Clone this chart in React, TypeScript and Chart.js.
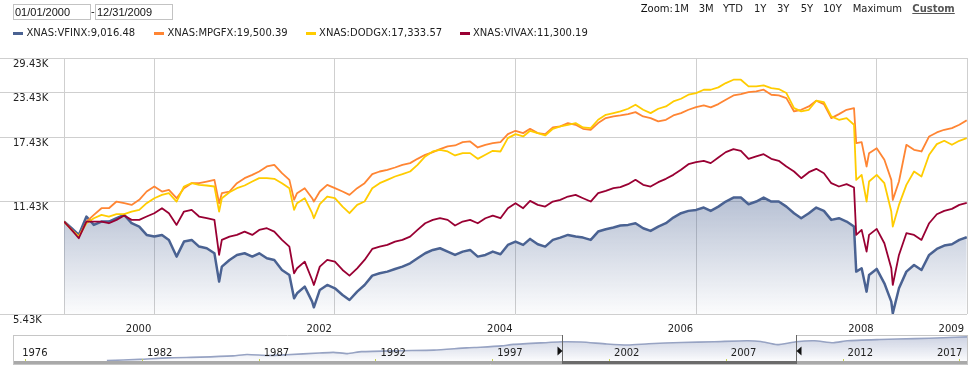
import React, { useEffect, useRef } from 'react';
import { Chart, registerables } from 'chart.js';

Chart.register(...registerables);

// ---------------- DATA ----------------
const dates = [
  '2000-01-01','2000-02-01','2000-03-01','2000-04-01','2000-05-01','2000-06-01','2000-07-01','2000-08-01','2000-09-01','2000-10-01','2000-11-01','2000-12-01',
  '2001-01-01','2001-02-01','2001-03-01','2001-04-01','2001-05-01','2001-06-01','2001-07-01','2001-08-01','2001-09-01','2001-09-20','2001-10-01','2001-11-01','2001-12-01',
  '2002-01-01','2002-02-01','2002-03-01','2002-04-01','2002-05-01','2002-06-01','2002-07-01','2002-07-20','2002-08-01','2002-09-01','2002-10-01','2002-10-08','2002-11-01','2002-12-01',
  '2003-01-01','2003-02-01','2003-03-01','2003-04-01','2003-05-01','2003-06-01','2003-07-01','2003-08-01','2003-09-01','2003-10-01','2003-11-01','2003-12-01',
  '2004-01-01','2004-02-01','2004-03-01','2004-04-01','2004-05-01','2004-06-01','2004-07-01','2004-08-01','2004-09-01','2004-10-01','2004-11-01','2004-12-01',
  '2005-01-01','2005-02-01','2005-03-01','2005-04-01','2005-05-01','2005-06-01','2005-07-01','2005-08-01','2005-09-01','2005-10-01','2005-11-01','2005-12-01',
  '2006-01-01','2006-02-01','2006-03-01','2006-04-01','2006-05-01','2006-06-01','2006-07-01','2006-08-01','2006-09-01','2006-10-01','2006-11-01','2006-12-01',
  '2007-01-01','2007-02-01','2007-03-01','2007-04-01','2007-05-01','2007-06-01','2007-07-01','2007-08-01','2007-09-01','2007-10-01','2007-11-01','2007-12-01',
  '2008-01-01','2008-02-01','2008-03-01','2008-04-01','2008-05-01','2008-06-01','2008-07-01','2008-08-01','2008-09-01','2008-10-01','2008-10-10','2008-11-01','2008-11-21','2008-12-01',
  '2009-01-01','2009-02-01','2009-03-01','2009-03-07','2009-04-01','2009-05-01','2009-06-01','2009-07-01','2009-08-01','2009-09-01','2009-10-01','2009-11-01','2009-12-01','2009-12-31',
];

const vfinx = [
  10000, 9565, 9153, 10333, 9778, 9996, 9996, 10219, 10447, 9887, 9671, 9153,
  9054, 9153, 8856, 7932, 8758, 8856, 8474, 8381, 8109, 6724, 7425, 7759, 8020,
  8109, 7932, 8109, 7845, 7759, 7263, 7027, 6022, 6225, 6505, 5891, 5674, 6364, 6577,
  6434, 6157, 5956, 6294, 6577, 6996, 7105, 7183, 7311, 7425, 7590, 7845,
  8109, 8289, 8381, 8198, 8020, 8198, 8289, 7932, 8020, 8198, 8055, 8568,
  8758, 8568, 8915, 8605, 8474, 8856, 8993, 9153, 9054, 8993, 8856, 9357,
  9502, 9608, 9735, 9778, 9887, 9565, 9398, 9671, 9887, 10264, 10563, 10727,
  10797, 10966, 10727, 11033, 11409, 11715, 11715, 11209, 11409, 11715, 11409, 11409,
  11033, 10563, 10219, 10563, 10966, 10727, 10107, 10219, 9996, 9671, 7183, 7343, 6294, 7027,
  7311, 6650, 5891, 5454, 6434, 7183, 7507, 7263, 8020, 8344, 8530, 8605, 8856, 9016.48,
];

const mpgfx = [
  10000, 9461, 9054, 9996, 10447, 10917, 10917, 11409, 11284, 11160, 11536, 12189,
  12599, 12189, 12324, 11663, 12460, 12879, 12879, 13021, 13166, 11284, 12056, 12189, 12879,
  13312, 13608, 13911, 14379, 14538, 13759, 13166, 11536, 12056, 12460, 11663, 11409, 12189, 12738,
  12460, 12189, 11923, 12460, 12879, 13668, 13911, 14066, 14284, 14538, 14700, 15125,
  15531, 15807, 16122, 16412, 16520, 16888, 16962, 16303, 16593, 16777, 16888, 17804,
  18202, 17923, 18443, 17923, 17804, 18607, 18731, 19148, 18938, 18443, 18323, 19148,
  19791, 20010, 20141, 20321, 20591, 20010, 19791, 19359, 19574, 20141, 20456, 20911,
  21283, 21519, 21236, 21710, 22340, 22988, 23193, 23500, 23605, 23867, 23091, 22988,
  22588, 20682, 20911, 21378, 22193, 21710, 19791, 20321, 20911, 21143, 16777, 16888, 14379, 15703,
  16231, 15027, 13166, 11536, 13021, 16593, 16053, 15877, 17532, 18002, 18323, 18525, 18938, 19500.39,
];

const dodgx = [
  10000, 9461, 9054, 9887, 10219, 10447, 10333, 10493, 10493, 10679, 10797, 11284,
  11663, 11923, 12056, 11409, 12599, 12879, 12738, 12682, 12599, 10679, 11663, 12135, 12460,
  12682, 13021, 13312, 13312, 13254, 12879, 12460, 10797, 11284, 11663, 10563, 10219, 11209, 11793,
  11663, 11033, 10563, 11160, 11409, 12460, 12879, 13166, 13459, 13668, 13911, 14538,
  15362, 15877, 16053, 15877, 15463, 15704, 15704, 15125, 15531, 15948, 15877, 17340,
  17804, 17532, 18202, 17923, 17648, 18443, 18731, 18938, 19148, 18607, 18525, 19574,
  20231, 20456, 20682, 21050, 21614, 20911, 20456, 21050, 21378, 22095, 22488, 23091,
  23348, 23867, 23867, 24238, 24942, 25498, 25498, 24398, 24398, 24560, 24131, 23972,
  23348, 21143, 20682, 20911, 22193, 21998, 20010, 19574, 19791, 18938, 13166, 13608, 11409, 13021,
  13608, 12879, 10679, 9671, 11160, 12738, 13911, 13459, 15531, 16666, 17037, 16593, 17037, 17333.57,
];

const vivax = [
  10000, 9461, 8954, 9996, 9996, 9996, 9887, 10107, 10401, 10107, 10107, 10333,
  10563, 10917, 10563, 9778, 10679, 10797, 10333, 10219, 10107, 8020, 8856, 9054, 9153,
  9357, 9153, 9461, 9565, 9357, 8856, 8474, 7105, 7343, 7674, 6798, 6577, 7425, 7759,
  7674, 7263, 6996, 7343, 7759, 8344, 8474, 8568, 8758, 8856, 9054, 9461,
  9887, 10107, 10219, 10107, 9735, 9996, 10107, 9887, 10219, 10401, 10219, 10917,
  11284, 10917, 11460, 11160, 11038, 11409, 11536, 11793, 11923, 11663, 11409, 12056,
  12243, 12460, 12543, 12794, 13166, 12738, 12599, 12964, 13254, 13608, 14066, 14602,
  14797, 14928, 14700, 15260, 15808, 16122, 15948, 15125, 15362, 15600, 15125, 14928,
  14379, 13911, 13312, 13850, 14159, 13759, 12879, 12599, 12794, 12515, 9153, 9461, 8198, 9153,
  9523, 8663, 7343, 6577, 8020, 9255, 9153, 8856, 9887, 10493, 10727, 10869, 11160, 11300.19,
];

const seriesNames = ['XNAS:VFINX', 'XNAS:MPGFX', 'XNAS:DODGX', 'XNAS:VIVAX'];
const seriesLastValues = ['9,016.48', '19,500.39', '17,333.57', '11,300.19'];

const yTicks = [5430, 11430, 17430, 23430, 29430];
const yTickLabels = ['5.43K', '11.43K', '17.43K', '23.43K', '29.43K'];
const xTicks = [2000, 2001, 2003, 2005, 2007, 2009, 2010];
const xTickLabels = ['', '2000', '2002', '2004', '2006', '2008', '2009'];

const rangeFrom = '01/01/2000';
const rangeTo = '12/31/2009';
const zoomLabel = 'Zoom:';
const zoomOptions = ['1M', '3M', 'YTD', '1Y', '3Y', '5Y', '10Y', 'Maximum', 'Custom'];

// navigator (full history overview)
const navYears = [1980.5, 1981.9, 1983.1, 1984.5, 1985.9, 1986.5, 1987.4, 1988.2, 1989.6, 1990.2, 1990.8, 1991.4, 1993.1, 1994.5, 1995.9, 1996.5, 1997.4, 1997.9, 1999.4, 2000.0, 2000.8, 2001.9, 2002.8, 2003.7, 2005.1, 2006.5, 2007.9, 2008.5, 2009.2, 2010.0, 2010.8, 2011.6, 2012.2, 2013.6, 2015.1, 2016.3, 2017.37];
const navValues = [1.0, 3.9, 7.6, 9.2, 12.2, 15.5, 13.2, 15.0, 19.2, 20.8, 17.8, 22.4, 24.7, 26.1, 31.6, 33.0, 36.2, 39.9, 44.5, 46.2, 45.5, 40.8, 38.5, 41.5, 44.5, 46.2, 48.5, 46.8, 39.2, 46.2, 48.5, 43.8, 48.5, 51.5, 53.8, 55.8, 58.0];
const navTickYears = [1977, 1982, 1987, 1992, 1997, 2002, 2007, 2012, 2017];
const navTickLabels = ['1976', '1982', '1987', '1992', '1997', '2002', '2007', '2012', '2017'];
const navRange = [1976.48, 2017.37];
const navSelection = [2000, 2010];

// ---------------- STYLE ----------------
const FONT = '"DejaVu Sans", Verdana, sans-serif';
const COLORS = ['#4a6292', '#ff8533', '#ffcc00', '#990033'];
const WIDTHS = [2.5, 1.8, 1.8, 1.8];
const ORDERS = [3, 2, 1, 0];
const GRID = '#cfcfcf';

const toYear = (s: string) => {
  const [y, m, d] = s.split('-').map(Number);
  const a = Date.UTC(y, 0, 1);
  const b = Date.UTC(y + 1, 0, 1);
  return y + (Date.UTC(y, m - 1, d) - a) / (b - a);
};
const years = dates.map(toYear);
const allSeries = [vfinx, mpgfx, dodgx, vivax];

const legendX = [13, 154, 305.6, 459.5];
const zoomX = [674, 698.7, 723, 754, 777, 800.7, 823, 852.7, 912.3];

const navDecor = {
  id: 'navDecor',
  afterDraw(chart: any) {
    const { ctx, scales } = chart;
    const xs = scales.x;
    const W = chart.width;
    const H = chart.height;
    const x0 = Math.round(xs.getPixelForValue(navSelection[0]));
    const x1 = Math.round(xs.getPixelForValue(navSelection[1]));
    ctx.save();
    // scrollbar
    ctx.fillStyle = '#a9a9a9';
    ctx.fillRect(1, H - 4, W - 2, 3);
    ctx.fillStyle = '#6b6b6b';
    ctx.fillRect(x0, H - 4, x1 - x0, 3);
    // tick marks
    ctx.fillStyle = '#c5d34c';
    navTickYears.forEach((t) => {
      const px = Math.round(xs.getPixelForValue(t));
      ctx.fillRect(px, H - 6, 1, 2);
    });
    // labels
    ctx.font = '10px ' + FONT;
    ctx.fillStyle = '#222';
    ctx.textBaseline = 'alphabetic';
    navTickYears.forEach((t, i) => {
      const px = xs.getPixelForValue(t);
      if (i === navTickYears.length - 1) {
        ctx.textAlign = 'right';
        ctx.fillText(navTickLabels[i], px + 3, 21);
      } else {
        ctx.textAlign = 'left';
        ctx.fillText(navTickLabels[i], i === 0 ? px - 3 : px + 5, 21);
      }
    });
    // outline
    ctx.strokeStyle = '#c6c6c6';
    ctx.lineWidth = 1;
    ctx.beginPath();
    ctx.moveTo(0.5, 0); ctx.lineTo(0.5, H);
    ctx.moveTo(W - 0.5, 0); ctx.lineTo(W - 0.5, H);
    ctx.moveTo(0, 0.5); ctx.lineTo(x0, 0.5);
    ctx.moveTo(x1, 0.5); ctx.lineTo(W, 0.5);
    ctx.moveTo(0, H - 0.5); ctx.lineTo(W, H - 0.5);
    ctx.stroke();
    // selection edges
    ctx.strokeStyle = '#666';
    ctx.beginPath();
    ctx.moveTo(x0 + 0.5, 0); ctx.lineTo(x0 + 0.5, H - 1);
    ctx.moveTo(x1 + 0.5, 0); ctx.lineTo(x1 + 0.5, H - 1);
    ctx.stroke();
    // handles
    ctx.fillStyle = '#111';
    ctx.beginPath();
    ctx.moveTo(x0 - 4.5, 11.5); ctx.lineTo(x0 + 0.5, 16); ctx.lineTo(x0 - 4.5, 20.5); ctx.closePath();
    ctx.fill();
    ctx.beginPath();
    ctx.moveTo(x1 + 5.5, 11.5); ctx.lineTo(x1 + 0.5, 16); ctx.lineTo(x1 + 5.5, 20.5); ctx.closePath();
    ctx.fill();
    ctx.restore();
  },
};

export default function App() {
  const mainRef = useRef<HTMLCanvasElement>(null);
  const navRef = useRef<HTMLCanvasElement>(null);

  useEffect(() => {
    const datasets = allSeries.map((vals, s) => ({
      label: seriesNames[s],
      data: vals.map((v, i) => ({ x: years[i], y: v })),
      borderColor: COLORS[s],
      borderWidth: WIDTHS[s],
      borderJoinStyle: 'round',
      pointRadius: 0,
      tension: 0,
      order: ORDERS[s],
      fill: s === 0 ? 'start' : false,
      backgroundColor:
        s === 0
          ? (ctx: any) => {
              const chart = ctx.chart;
              const area = chart.chartArea;
              if (!area) return 'rgba(74,98,146,0.15)';
              const top = chart.scales.y.getPixelForValue(Math.max(...vfinx));
              const g = chart.ctx.createLinearGradient(0, top, 0, area.bottom);
              g.addColorStop(0, 'rgba(74,98,146,0.40)');
              g.addColorStop(1, 'rgba(74,98,146,0.02)');
              return g;
            }
          : COLORS[s],
    }));

    const main = new Chart(mainRef.current as HTMLCanvasElement, {
      type: 'line',
      data: { datasets: datasets as any },
      options: {
        responsive: false,
        animation: false,
        events: [],
        layout: { padding: { left: 13, right: 12, top: 58, bottom: 6 } },
        plugins: { legend: { display: false }, tooltip: { enabled: false } },
        scales: {
          x: {
            type: 'linear',
            min: 2000,
            max: 2010,
            afterBuildTicks: (axis: any) => {
              axis.ticks = xTicks.map((v) => ({ value: v }));
            },
            afterFit: (axis: any) => {
              axis.height = 20;
            },
            grid: { color: GRID, drawTicks: false, lineWidth: 1 },
            border: { display: false },
            ticks: {
              autoSkip: false,
              maxRotation: 0,
              minRotation: 0,
              align: 'end',
              labelOffset: -3,
              padding: 9,
              color: '#222',
              font: { family: FONT, size: 10 },
              callback: (_v: any, i: number) => xTickLabels[i],
            },
          },
          y: {
            type: 'logarithmic',
            min: yTicks[0],
            max: yTicks[yTicks.length - 1],
            afterBuildTicks: (axis: any) => {
              axis.ticks = yTicks.map((v) => ({ value: v }));
            },
            afterFit: (axis: any) => {
              axis.width = 51;
            },
            grid: { color: GRID, drawTicks: true, tickLength: 64, lineWidth: 1 },
            border: { display: false },
            ticks: {
              autoSkip: false,
              crossAlign: 'far',
              labelOffset: 6,
              padding: 0,
              color: '#222',
              font: { family: FONT, size: 10 },
              callback: (_v: any, i: number) => yTickLabels[i],
            },
          },
        },
      } as any,
    });

    const nav = new Chart(navRef.current as HTMLCanvasElement, {
      type: 'line',
      data: {
        datasets: [
          {
            data: navYears.map((x, i) => ({ x, y: navValues[i] })),
            borderColor: '#97a3c3',
            borderWidth: 1.6,
            pointRadius: 0,
            tension: 0.2,
            fill: 'start',
            backgroundColor: (ctx: any) => {
              const chart = ctx.chart;
              const area = chart.chartArea;
              if (!area) return 'rgba(120,135,175,0.2)';
              const g = chart.ctx.createLinearGradient(0, area.top, 0, area.bottom);
              g.addColorStop(0, 'rgba(120,135,178,0.38)');
              g.addColorStop(1, 'rgba(120,135,178,0.03)');
              return g;
            },
          } as any,
        ],
      },
      options: {
        responsive: false,
        animation: false,
        events: [],
        layout: { padding: { left: 0, right: 0, top: 1, bottom: 4 } },
        plugins: { legend: { display: false }, tooltip: { enabled: false } },
        scales: {
          x: { type: 'linear', min: navRange[0], max: navRange[1], display: false },
          y: { type: 'linear', min: 0, max: 60, display: false },
        },
      } as any,
      plugins: [navDecor as any],
    });

    return () => {
      main.destroy();
      nav.destroy();
    };
  }, []);

  const inputStyle: React.CSSProperties = {
    position: 'absolute',
    top: 4,
    width: 78,
    height: 16,
    boxSizing: 'border-box',
    border: '1px solid #c3c3c3',
    fontFamily: '"Liberation Sans", Arial, sans-serif',
    fontSize: 11,
    lineHeight: '15px',
    paddingLeft: 1,
    color: '#111',
    whiteSpace: 'nowrap',
  };

  const textBase: React.CSSProperties = {
    position: 'absolute',
    fontFamily: FONT,
    fontSize: 10,
    lineHeight: '12px',
    whiteSpace: 'nowrap',
    color: '#222',
  };

  return (
    <div
      style={{
        position: 'absolute',
        left: 0,
        top: 0,
        width: 979,
        height: 381,
        background: '#fff',
        overflow: 'hidden',
      }}
    >
      <canvas
        ref={mainRef}
        width={979}
        height={340}
        style={{ position: 'absolute', left: 0, top: 0, width: 979, height: 340 }}
      />
      <canvas
        ref={navRef}
        width={955}
        height={30}
        style={{ position: 'absolute', left: 13, top: 335, width: 955, height: 30 }}
      />

      <div style={{ ...inputStyle, left: 13 }}>{rangeFrom}</div>
      <div
        style={{
          position: 'absolute',
          left: 91,
          top: 4,
          fontFamily: '"Liberation Sans", Arial, sans-serif',
          fontSize: 11,
          lineHeight: '15px',
          color: '#111',
        }}
      >
        -
      </div>
      <div style={{ ...inputStyle, left: 95 }}>{rangeTo}</div>

      <div style={{ ...textBase, left: 640.7, top: 3, color: '#111' }}>{zoomLabel}</div>
      {zoomOptions.map((z, i) => {
        const last = i === zoomOptions.length - 1;
        return (
          <div
            key={z}
            style={{
              ...textBase,
              left: zoomX[i],
              top: 3,
              color: last ? '#555' : '#222',
              fontWeight: last ? 'bold' : 'normal',
              textDecoration: last ? 'underline' : 'none',
            }}
          >
            {z}
          </div>
        );
      })}

      {seriesNames.map((n, i) => (
        <React.Fragment key={n}>
          <div
            style={{
              position: 'absolute',
              left: legendX[i],
              top: 32,
              width: 10,
              height: 3,
              background: COLORS[i],
            }}
          />
          <div style={{ ...textBase, left: legendX[i] + 13.5, top: 27 }}>
            {n + ':' + seriesLastValues[i]}
          </div>
        </React.Fragment>
      ))}
    </div>
  );
}
